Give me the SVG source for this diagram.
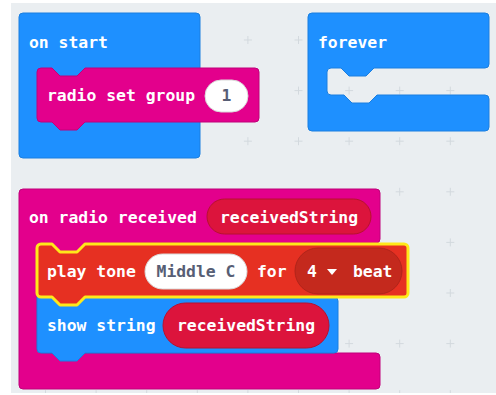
<svg xmlns="http://www.w3.org/2000/svg" width="496" height="395" viewBox="0 0 496 395">
<style>
.t{font-family:"DejaVu Sans Mono","Liberation Mono",monospace;font-weight:bold;font-size:16.4px;fill:#ffffff}
.g{fill:#575e75}
.m{text-anchor:middle}
.blue{fill:#1e90ff;stroke:#1a7fe0;stroke-width:1}
.pink{fill:#e3008c;stroke:#c0007a;stroke-width:1}
.var{fill:#dc143c;stroke:#b8112f;stroke-width:1}
.white{fill:#ffffff;stroke:#d8d8d8;stroke-width:1}
.cross{stroke:#d3d9de;stroke-width:1;fill:none}
</style>
<defs>
<clipPath id="ws"><rect x="11" y="3" width="485" height="390"/></clipPath>
</defs>
<rect x="0" y="0" width="496" height="395" fill="#ffffff"/>
<rect x="11" y="3" width="485" height="390" fill="#eaeef1"/>
<g id="grid" clip-path="url(#ws)" class="cross">
<path d="M243.9,40h8M247.9,36v8M294.5,40h8M298.5,36v8M345.1,40h8M349.1,36v8M395.7,40h8M399.7,36v8M446.3,40h8M450.3,36v8
M243.9,90.6h8M247.9,86.6v8M294.5,90.6h8M298.5,86.6v8M345.1,90.6h8M349.1,86.6v8M395.7,90.6h8M399.7,86.6v8M446.3,90.6h8M450.3,86.6v8
M243.9,141.2h8M247.9,137.2v8M294.5,141.2h8M298.5,137.2v8M345.1,141.2h8M349.1,137.2v8M395.7,141.2h8M399.7,137.2v8M446.3,141.2h8M450.3,137.2v8
M395.7,191.8h8M399.7,187.8v8M446.3,191.8h8M450.3,187.8v8
M446.3,242.4h8M450.3,238.4v8
M446.3,293h8M450.3,289v8
M345.1,343.6h8M349.1,339.6v8M395.7,343.6h8M399.7,339.6v8M446.3,343.6h8M450.3,339.6v8
M41.5,394.2h8M45.5,390.2v8M92.1,394.2h8M96.1,390.2v8M142.7,394.2h8M146.7,390.2v8M193.3,394.2h8M197.3,390.2v8M243.9,394.2h8M247.9,390.2v8M294.5,394.2h8M298.5,390.2v8M345.1,394.2h8M349.1,390.2v8M395.7,394.2h8M399.7,390.2v8M446.3,394.2h8M450.3,390.2v8"/>
</g>

<g id="on-start">
<rect class="blue" x="19" y="13" width="181" height="145" rx="4"/>
<text class="t" x="29" y="47.5">on start</text>
</g>

<g id="radio-set-group">
<path class="pink" d="M37,72 a4,4 0 0 1 4,-4 H52 l8,8 h17 l8,-8 H255 a4,4 0 0 1 4,4 V118 a4,4 0 0 1 -4,4 H85 l-8,8 h-17 l-8,-8 H41 a4,4 0 0 1 -4,-4 Z"/>
<text class="t" x="47" y="101">radio set group</text>
<rect class="white" x="205" y="80" width="43" height="32" rx="16"/>
<text class="t g m" x="226.5" y="101">1</text>
</g>

<g id="forever">
<path class="blue" d="M308,17 a4,4 0 0 1 4,-4 H485 a4,4 0 0 1 4,4 V64 a4,4 0 0 1 -4,4 H374 l-8,8 h-17 l-8,-8 H331 a4,4 0 0 0 -4,4 V91 a4,4 0 0 0 4,4 H344 l8,8 h17 l8,-8 H485 a4,4 0 0 1 4,4 V127 a4,4 0 0 1 -4,4 H312 a4,4 0 0 1 -4,-4 Z"/>
<text class="t" x="318" y="47.5">forever</text>
</g>

<g id="on-radio-received">
<path class="pink" d="M19,193 a4,4 0 0 1 4,-4 H376 a4,4 0 0 1 4,4 V239 a4,4 0 0 1 -4,4 H85 l-8,8 h-17 l-8,-8 H41 a4,4 0 0 0 -4,4 V349 a4,4 0 0 0 4,4 H376 a4,4 0 0 1 4,4 V385 a4,4 0 0 1 -4,4 H23 a4,4 0 0 1 -4,-4 Z"/>
<text class="t" x="29" y="222.5">on radio received</text>
<rect class="var" x="207" y="199" width="164" height="35" rx="17.5"/>
<text class="t m" x="289" y="222.5">receivedString</text>
</g>

<g id="show-string">
<path class="blue" d="M37,297 H334 a4,4 0 0 1 4,4 V349 a4,4 0 0 1 -4,4 H85 l-8,8 h-17 l-8,-8 H41 a4,4 0 0 1 -4,-4 Z"/>
<text class="t" x="47" y="331">show string</text>
<rect class="var" x="163" y="303" width="166" height="45" rx="22.5"/>
<text class="t m" x="246" y="331">receivedString</text>
</g>

<g id="play-tone">
<path d="M37,248 a4,4 0 0 1 4,-4 H52 l8,8 h17 l8,-8 H404 a4,4 0 0 1 4,4 V293 a4,4 0 0 1 -4,4 H85 l-8,8 h-17 l-8,-8 H41 a4,4 0 0 1 -4,-4 Z" fill="#e63022" stroke="#ffe81a" stroke-width="3" stroke-linejoin="round"/>
<text class="t" x="47" y="277">play tone</text>
<rect class="white" x="145" y="254" width="102" height="35" rx="17.5"/>
<text class="t g m" x="196" y="277">Middle C</text>
<text class="t" x="257" y="277">for</text>
<rect x="295" y="248" width="107" height="46" rx="23" fill="#c4291d" stroke="#b0241a" stroke-width="1"/>
<text class="t" x="307" y="277">4</text>
<polygon points="327,269 337,269 332,275" fill="#ffffff"/>
<text class="t" x="353" y="277">beat</text>
</g>
</svg>
